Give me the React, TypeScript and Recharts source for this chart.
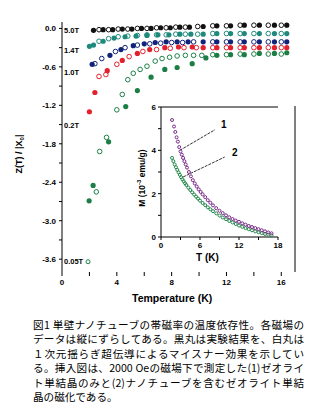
import React from 'react';
import { ScatterChart, Scatter, XAxis, YAxis, ReferenceLine } from 'recharts';

// main plot: Z(T)/|X0| vs temperature, filled = experiment, open = theory
const B50_T = [2.3, 3.0, 3.7, 4.4, 5.1, 5.8, 6.5, 7.2, 7.9, 8.6, 9.3, 10.3, 11.3, 12.3, 13.3, 14.4, 15.5, 16.4];
const B50_Z = [-0.03, -0.02, -0.02, -0.01, -0.01, 0, 0, 0.01, 0.01, 0.02, 0.02, 0.03, 0.04, 0.04, 0.05, 0.05, 0.05, 0.05];
const B50_T_TH = [2.7, 3.4, 4.1, 4.8, 5.5, 6.2, 6.9, 7.6, 8.3, 9.0, 9.9, 11.0, 12.0, 13.0, 14.0, 15.05, 16.0];
const B50_Z_TH = [-0.02, -0.02, -0.01, -0.01, 0, 0, 0.01, 0.01, 0.02, 0.02, 0.03, 0.04, 0.04, 0.05, 0.05, 0.05, 0.05];

const B30_T = [2.0, 2.3, 3.0, 3.8, 4.6, 5.4, 6.2, 7.0, 7.8, 8.6, 9.4, 10.3, 11.3, 12.3, 13.3, 14.4, 15.5, 16.4];
const B30_Z = [-0.28, -0.26, -0.2, -0.15, -0.13, -0.12, -0.11, -0.1, -0.1, -0.09, -0.09, -0.09, -0.08, -0.08, -0.08, -0.08, -0.08, -0.08];
const B30_T_TH = [2.7, 3.4, 4.1, 4.8, 5.5, 6.2, 6.9, 7.6, 8.3, 9.0, 9.9, 11.0, 12.0, 13.0, 14.0, 15.05, 16.0];
const B30_Z_TH = [-0.2, -0.16, -0.13, -0.12, -0.11, -0.1, -0.1, -0.1, -0.09, -0.09, -0.09, -0.08, -0.08, -0.08, -0.08, -0.08, -0.08];

const B14_T = [2.2, 3.5, 4.3, 5.2, 6.0, 6.8, 7.6, 8.4, 9.2, 10.3, 11.3, 12.3, 13.3, 14.4, 15.5, 16.4];
const B14_Z = [-0.56, -0.42, -0.33, -0.27, -0.24, -0.22, -0.21, -0.21, -0.21, -0.21, -0.21, -0.21, -0.21, -0.21, -0.21, -0.21];
const B14_T_TH = [2.4, 2.9, 3.9, 4.6, 5.5, 6.4, 7.2, 8.0, 8.8, 9.6, 11.0, 12.0, 13.0, 14.0, 15.05, 16.0];
const B14_Z_TH = [-0.55, -0.47, -0.36, -0.3, -0.26, -0.24, -0.23, -0.22, -0.22, -0.21, -0.21, -0.21, -0.21, -0.21, -0.21, -0.21];

const B10_T = [2.0, 2.4, 3.3, 4.4, 5.5, 6.4, 7.5, 8.5, 9.5, 10.3, 11.3, 12.3, 13.3, 14.4, 15.5, 16.4];
const B10_Z = [-1.3, -1.0, -0.66, -0.5, -0.39, -0.33, -0.3, -0.29, -0.29, -0.3, -0.3, -0.3, -0.3, -0.3, -0.3, -0.3];
const B10_T_TH = [2.7, 3.2, 4.0, 4.9, 5.9, 6.9, 7.9, 8.9, 9.8, 11.0, 12.0, 13.0, 14.0, 15.05, 16.0];
const B10_Z_TH = [-0.75, -0.72, -0.56, -0.44, -0.36, -0.33, -0.31, -0.3, -0.3, -0.3, -0.3, -0.3, -0.3, -0.3, -0.3];

const B02_T = [1.98, 2.27, 3.4, 4.65, 5.5, 6.5, 7.5, 8.4, 9.5, 10.5, 11.3, 12.3, 13.3, 14.4, 15.5, 16.4];
const B02_Z = [-2.69, -2.45, -1.77, -1.22, -0.97, -0.76, -0.64, -0.61, -0.55, -0.46, -0.42, -0.41, -0.41, -0.39, -0.39, -0.38];
const B02_T_TH = [2.5, 2.75, 3.25, 4.0, 4.4, 4.8, 5.2, 5.7, 6.2, 6.8, 7.3, 7.85, 8.4, 9.0, 9.6, 10.2, 11.0, 12.0, 13.0, 14.0, 15.05, 16.0];
const B02_Z_TH = [-2.55, -1.92, -1.7, -1.27, -1.03, -0.8, -0.7, -0.64, -0.59, -0.51, -0.47, -0.45, -0.43, -0.42, -0.42, -0.42, -0.41, -0.41, -0.4, -0.4, -0.4, -0.4];

const B005_T_TH = [1.9];
const B005_Z_TH = [-3.64];

const X_TICKS = [0, 2, 4, 6, 8, 10, 12, 14, 16];
const Y_TICKS = [0, -0.3, -0.6, -0.9, -1.2, -1.5, -1.8, -2.1, -2.4, -2.7, -3.0, -3.3, -3.6];

const FIELD_LABELS = ['5.0T', '1.4T', '1.0T', '0.2T', '0.05T'];

// inset: M vs T at 2000 Oe
const INSET_T1 = [1.7, 2.0, 2.2, 2.4, 2.6, 2.8, 3.0, 3.2, 3.4, 3.6, 3.8, 4.0, 4.3, 4.6, 4.9, 5.2, 5.5, 5.8, 6.1, 6.4, 6.8, 7.2, 7.6, 8.0, 8.5, 9.0, 9.5, 10.0, 10.5, 11.0, 11.5, 12.0, 12.5, 13.0, 13.5, 14.0, 14.5, 15.0, 15.5, 16.0, 16.5, 17.0];
const INSET_M1 = [5.4, 5.1, 4.85, 4.6, 4.4, 4.15, 3.95, 3.8, 3.65, 3.5, 3.35, 3.2, 3.0, 2.8, 2.62, 2.47, 2.33, 2.2, 2.08, 1.97, 1.84, 1.7, 1.58, 1.46, 1.33, 1.21, 1.1, 1.0, 0.91, 0.83, 0.76, 0.7, 0.63, 0.57, 0.51, 0.46, 0.41, 0.36, 0.31, 0.26, 0.21, 0.17];
const INSET_T2 = [1.7, 1.9, 2.1, 2.3, 2.5, 2.7, 2.9, 3.1, 3.3, 3.5, 3.7, 3.9, 4.2, 4.5, 4.8, 5.1, 5.4, 5.7, 6.0, 6.4, 6.8, 7.2, 7.6, 8.0, 8.5, 9.0, 9.5, 10.0, 10.5, 11.0, 11.5, 12.0, 12.5, 13.0, 13.5, 14.0, 14.5, 15.0, 15.5, 16.0, 16.5, 17.0];
const INSET_M2 = [3.65, 3.5, 3.35, 3.22, 3.1, 2.98, 2.87, 2.76, 2.66, 2.57, 2.48, 2.4, 2.28, 2.17, 2.06, 1.96, 1.86, 1.77, 1.68, 1.57, 1.47, 1.37, 1.28, 1.19, 1.09, 0.99, 0.9, 0.82, 0.74, 0.67, 0.6, 0.53, 0.47, 0.41, 0.36, 0.31, 0.26, 0.22, 0.18, 0.14, 0.11, 0.08];
const INSET_X_TICKS = [0, 3, 6, 9, 12, 15, 18];
const INSET_Y_TICKS = [0, 1, 2, 3, 4, 5, 6];

const CAPTION = [
  '図1 単壁ナノチューブの帯磁率の温度依存性。各磁場の',
  'データは縦にずらしてある。黒丸は実験結果を、白丸は',
  '１次元揺らぎ超伝導によるマイスナー効果を示してい',
  'る。挿入図は、2000 Oeの磁場下で測定した(1)ゼオライ',
  'ト単結晶のみと(2)ナノチューブを含むゼオライト単結',
  '晶の磁化である。',
];

const zip = (xs: number[], ys: number[]) => xs.map((x, i) => ({ x, y: ys[i] }));

const FONT = '"Liberation Sans", Arial, sans-serif';
const tickStyle = { fontFamily: FONT, fontWeight: 700, fontSize: 8, fill: '#000' };

const filled = (color: string, r = 2.6) => (p: any) => <circle cx={p.cx} cy={p.cy} r={r} fill={color} />;
const open = (color: string, r = 2.3) => (p: any) => (
  <circle cx={p.cx} cy={p.cy} r={r} fill="none" stroke={color} strokeWidth={1} />
);

const SERIES = [
  { exp: zip(B50_T, B50_Z), th: zip(B50_T_TH, B50_Z_TH), color: '#111111' },
  { exp: zip(B30_T, B30_Z), th: zip(B30_T_TH, B30_Z_TH), color: '#1f8a7c' },
  { exp: zip(B14_T, B14_Z), th: zip(B14_T_TH, B14_Z_TH), color: '#12237a' },
  { exp: zip(B10_T, B10_Z), th: zip(B10_T_TH, B10_Z_TH), color: '#e3202c' },
  { exp: zip(B02_T, B02_Z), th: zip(B02_T_TH, B02_Z_TH), color: '#1b7f45' },
];

const label = (text: React.ReactNode, left: number, top: number, size = 8, extra: React.CSSProperties = {}) => (
  <div
    style={{
      position: 'absolute', left, top, fontFamily: FONT, fontWeight: 700, fontSize: size,
      lineHeight: 1, whiteSpace: 'nowrap', color: '#000', ...extra,
    }}
  >
    {text}
  </div>
);

export default function App() {
  const labelTops = [27, 47, 69, 122, 258];
  return (
    <div style={{ position: 'absolute', left: 0, top: 0, width: 324, height: 410, background: '#fff' }}>
      <ScatterChart width={324} height={310} margin={{ top: 22, right: 29, bottom: 0, left: 22 }}>
        <XAxis
          type="number" dataKey="x" domain={[0, 17]} ticks={X_TICKS} axisLine={false}
          tickSize={4} tickMargin={3} height={38} tick={tickStyle} stroke="#000"
          tickFormatter={(v: number) => (v % 4 === 0 ? String(v) : '')}
        />
        <YAxis
          type="number" dataKey="y" domain={[-3.8, 0.1]} ticks={Y_TICKS} width={40}
          tickSize={3} tickMargin={3} tick={tickStyle} stroke="#000" allowDataOverflow
          tickFormatter={(v: number) => (Math.round(v * 10) % 6 === 0 ? v.toFixed(1) : '')}
        />
        <ReferenceLine segment={[{ x: 17, y: -1.21 }, { x: 17, y: -3.8 }]} stroke="#000" ifOverflow="visible" />
        {SERIES.map((s, i) => (
          <Scatter key={`th-${i}`} data={s.th} shape={open(s.color)} isAnimationActive={false} />
        ))}
        {SERIES.map((s, i) => (
          <Scatter key={`exp-${i}`} data={s.exp} shape={filled(s.color)} isAnimationActive={false} />
        ))}
        <Scatter data={zip(B005_T_TH, B005_Z_TH)} shape={open('#1b7f45', 2)} isAnimationActive={false} />
      </ScatterChart>

      <div style={{ position: 'absolute', left: 120, top: 95 }}>
        <ScatterChart width={200} height={180} margin={{ top: 12, right: 42, bottom: 18, left: 21 }}>
          <XAxis
            type="number" dataKey="x" domain={[0, 18]} ticks={INSET_X_TICKS} height={20}
            tickSize={3} tickMargin={2} tick={tickStyle} stroke="#000"
            tickFormatter={(v: number) => (v % 6 === 0 ? String(v) : '')}
          />
          <YAxis
            type="number" dataKey="y" domain={[0, 6]} ticks={INSET_Y_TICKS} width={20}
            tickSize={3} tickMargin={2} tick={tickStyle} stroke="#000"
            tickFormatter={(v: number) => (v % 2 === 0 ? String(v) : '')}
          />
          <ReferenceLine y={6} stroke="#000" />
          <ReferenceLine segment={[{ x: 2.9, y: 4.0 }, { x: 8.3, y: 4.95 }]} stroke="#000" strokeWidth={0.8} strokeDasharray="3 1" />
          <ReferenceLine segment={[{ x: 3.4, y: 2.77 }, { x: 9.8, y: 3.69 }]} stroke="#000" strokeWidth={0.8} strokeDasharray="3 1" />
          <Scatter data={zip(INSET_T2, INSET_M2)} shape={open('#23884a', 1.5)} isAnimationActive={false} />
          <Scatter data={zip(INSET_T1, INSET_M1)} shape={open('#7a2a8a', 1.5)} isAnimationActive={false} />
        </ScatterChart>
      </div>

      {FIELD_LABELS.map((t, i) => label(t, 64, labelTops[i], 7.5, { key: t } as any))}
      {label('1', 221, 120, 10)}
      {label('2', 232, 148, 10)}
      {label('T (K)', 196, 253, 10)}
      {label('Temperature (K)', 132, 293, 10.5)}
      {label(
        <span>Z(T) / |X<sub style={{ fontSize: 6 }}>0</sub>|</span>,
        20, 154, 9, { transform: 'translate(-50%, -50%) rotate(-90deg)' }
      )}
      {label(
        <span>M (10<sup style={{ fontSize: 6 }}>-3</sup> emu/g)</span>,
        141, 178, 8.5, { transform: 'translate(-50%, -50%) rotate(-90deg)' }
      )}

      <div style={{ position: 'absolute', left: 33, top: 318, width: 271, fontFamily: '"Noto Sans CJK JP", sans-serif', fontSize: 10.6, color: '#000' }}>
        {CAPTION.map((line, i) => (
          <div
            key={i}
            style={{
              height: 14.4, lineHeight: '14.4px', whiteSpace: 'nowrap',
              textAlign: 'justify', textAlignLast: i === CAPTION.length - 1 ? 'left' : 'justify',
            }}
          >
            {line}
          </div>
        ))}
      </div>
    </div>
  );
}
